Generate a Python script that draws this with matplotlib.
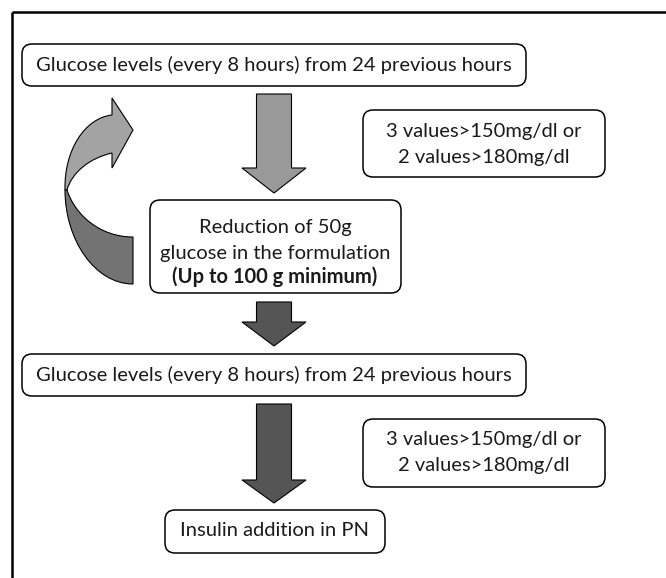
import matplotlib
matplotlib.use("Agg")
import matplotlib.pyplot as plt
from matplotlib.patches import FancyBboxPatch, Polygon, PathPatch
from matplotlib.path import Path

# ---- content ----
step_texts = [
    "Glucose levels (every 8 hours) from 24 previous hours",
    "Glucose levels (every 8 hours) from 24 previous hours",
]
criteria_lines = ["3 values>150mg/dl or", "2 values>180mg/dl"]
reduction_lines = ["Reduction of 50g", "glucose in the formulation"]
reduction_bold = "(Up to 100 g minimum)"
final_text = "Insulin addition in PN"

# ---- layout (pixel coordinates, y downward) ----
W, H = 666, 578
FONT = "Lato"
FS = 14.5

fig = plt.figure(figsize=(W / 100, H / 100), dpi=100)
ax = fig.add_axes([0, 0, 1, 1])
ax.set_xlim(0, W)
ax.set_ylim(H, 0)
ax.axis("off")

# frame (top and left)
ax.plot([12, W], [12, 12], color="black", lw=1.8, solid_capstyle="butt")
ax.plot([12, 12], [12, H], color="black", lw=1.8, solid_capstyle="butt")


def rbox(x0, y0, x1, y1, r=10):
    p = FancyBboxPatch((x0, y0), x1 - x0, y1 - y0,
                       boxstyle=f"round,pad=0,rounding_size={r}",
                       fc="white", ec="black", lw=1.1, zorder=3)
    ax.add_patch(p)


def down_arrow(cx, y_top, y_base, y_tip, color, sw=17.5, hw=32):
    pts = [(cx - sw, y_top), (cx + sw, y_top), (cx + sw, y_base),
           (cx + hw, y_base), (cx, y_tip), (cx - hw, y_base),
           (cx - sw, y_base)]
    ax.add_patch(Polygon(pts, closed=True, fc=color, ec="black", lw=0.8, zorder=2))


def txt(x, y, s, bold=False):
    ax.text(x, y, s, ha="center", va="center", fontsize=FS,
            family=FONT, weight="bold" if bold else "normal",
            color="#1a1a1a", zorder=4)


# boxes
rbox(22, 44, 526, 86)
txt(274, 65, step_texts[0])

rbox(363, 110, 605, 177)
txt(484, 131, criteria_lines[0])
txt(484, 157, criteria_lines[1])

rbox(150, 200, 401, 293)
txt(275, 228, reduction_lines[0])
txt(275, 253, reduction_lines[1])
txt(275, 277, reduction_bold, bold=True)

rbox(22, 354, 526, 396)
txt(274, 375, step_texts[1])

rbox(363, 419, 605, 487)
txt(484, 440, criteria_lines[0])
txt(484, 466, criteria_lines[1])

rbox(165, 510, 385, 553)
txt(275, 531, final_text)

# straight arrows
down_arrow(274, 94, 168, 193, "#999999")
down_arrow(274, 302, 322, 346, "#555555")
down_arrow(274, 404, 480, 503, "#555555")

# curved loop arrow (upper light part with head)
up_verts = [(65, 190), (64, 150), (85, 118), (112, 115),
            (112, 98), (133, 130), (112, 168), (112, 153),
            (90, 158), (72, 172), (67, 190), (65, 190)]
up_codes = [Path.MOVETO, Path.CURVE4, Path.CURVE4, Path.CURVE4,
            Path.LINETO, Path.LINETO, Path.LINETO, Path.LINETO,
            Path.CURVE4, Path.CURVE4, Path.CURVE4, Path.CLOSEPOLY]
ax.add_patch(PathPatch(Path(up_verts, up_codes), fc="#a3a3a3", ec="black",
                       lw=0.8, zorder=2))

lo_verts = [(67, 190), (75, 215), (100, 237), (133, 237),
            (133, 284), (95, 284), (65, 240), (65, 190), (67, 190)]
lo_codes = [Path.MOVETO, Path.CURVE4, Path.CURVE4, Path.CURVE4,
            Path.LINETO, Path.CURVE4, Path.CURVE4, Path.CURVE4, Path.CLOSEPOLY]
ax.add_patch(PathPatch(Path(lo_verts, lo_codes), fc="#737373", ec="black",
                       lw=0.8, zorder=2))

fig.savefig("out.png", dpi=100)
